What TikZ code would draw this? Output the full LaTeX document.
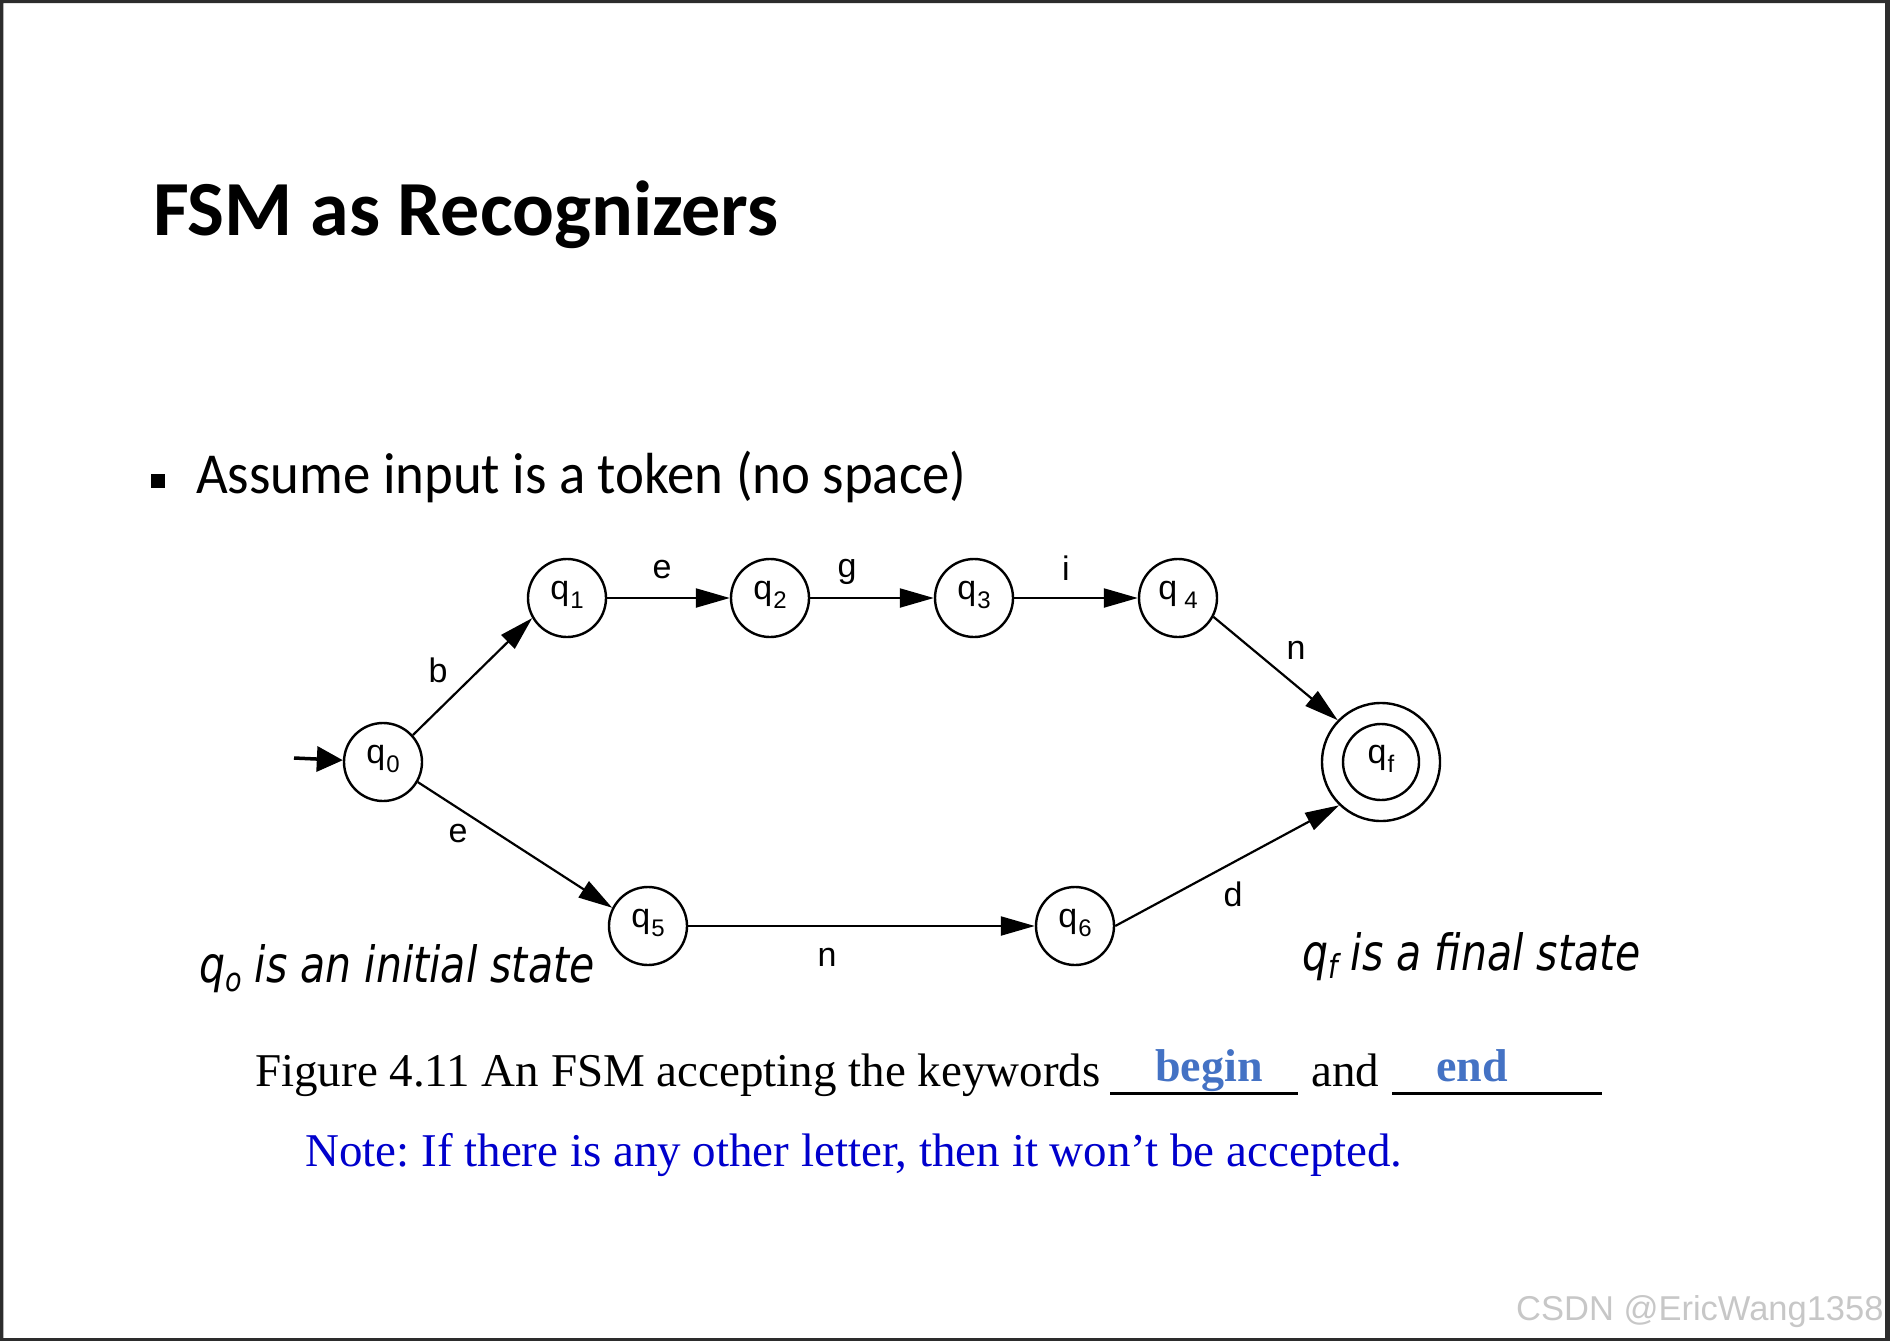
\documentclass[tikz,border=0pt]{standalone}
\usepackage{fontspec}
\setmainfont{Liberation Serif}
\newfontfamily\calfont{Carlito}
\newfontfamily\calnarrow[FakeStretch=0.945]{Carlito}
\newfontfamily\arfont{Liberation Sans}
\newfontfamily\tahfont[FakeStretch=0.82]{DejaVu Sans}
\usetikzlibrary{arrows.meta}
\definecolor{notebl}{RGB}{0,0,204}
\definecolor{kwbl}{RGB}{68,114,196}
\definecolor{framegr}{RGB}{45,45,45}
\newcommand\qsub[2][1pt]{q\kern#1\raisebox{-9pt}{\fontsize{24}{24}\selectfont #2}}
\frenchspacing
\begin{document}
\begin{tikzpicture}[x=1pt,y=-1pt,
  state/.style={circle, draw, line width=2.4pt, minimum size=78pt, inner sep=0pt,
    text height=12pt, text depth=10pt, font=\arfont\fontsize{34}{34}\selectfont},
  finalstate/.style={state, minimum size=118pt},
  edgelbl/.style={font=\arfont\fontsize{34}{34}\selectfont, inner sep=0pt},
  trans/.style={line width=2.2pt, -{Triangle[length=34pt,width=19pt]}},
  initarrow/.style={line width=3.5pt, -{Triangle[length=26pt,width=25pt]}},
  caption/.style={anchor=base west, inner sep=0pt, font=\tahfont\itshape\fontsize{50}{50}\selectfont},
  serif/.style={anchor=base west, inner sep=0pt, font=\fontsize{47}{47}\selectfont},
  kw/.style={anchor=base west, inner sep=0pt, text=kwbl, font=\bfseries\fontsize{46}{46}\selectfont},
  blank/.style={line width=3pt}]
\useasboundingbox (0,0) rectangle (1890,1341);
\fill[framegr,even odd rule] (0,0) rectangle (1890,1341) (3.3,3) rectangle (1885,1338);

% title and bullet
\node[anchor=base west, inner sep=0pt, font=\calfont\bfseries\fontsize{78}{78}\selectfont] (title) at (153,235) {FSM as Recognizers};
\node[fill, minimum size=14pt, inner sep=0pt] (bul) at (158,481) {};
\node[anchor=base west, inner sep=0pt, font=\calnarrow\fontsize{58}{58}\selectfont] (bullet) at (196,493) {Assume input is a token (no space)};

% states
\node[state] (q0) at (383,762) {\qsub{0}};
\node[state] (q1) at (567,598) {\qsub{1}};
\node[state] (q2) at (770,598) {\qsub{2}};
\node[state] (q3) at (974,598) {\qsub{3}};
\node[state] (q4) at (1178,598) {\qsub[7pt]{4}};
\node[finalstate] (qf) at (1381,762) {\qsub{f}};
\draw[line width=2.4pt] (qf.center) circle[radius=38pt];
\node[state] (q5) at (648,926) {\qsub{5}};
\node[state] (q6) at (1075,926) {\qsub{6}};

% transitions
\coordinate (init) at (294,758);
\draw[initarrow] (init) -- (q0);
\draw[trans] (q0.42) -- (q1.210);
\draw[trans] (q1) -- (q2);
\draw[trans] (q2) -- (q3);
\draw[trans] (q3) -- (q4);
\draw[trans] (q4.-28) -- (qf.136);
\draw[trans] (q0.-30) -- (q5.153);
\draw[trans] (q5) -- (q6);
\draw[trans] (q6.east) -- (qf.226);

% transition labels
\node[edgelbl] (lb) at (438,670) {b};
\node[edgelbl] (le1) at (662,570) {e};
\node[edgelbl] (lg) at (847,572) {g};
\node[edgelbl] (li) at (1066,568) {i};
\node[edgelbl] (ln1) at (1296,650) {n};
\node[edgelbl] (le2) at (458,834) {e};
\node[edgelbl] (ln2) at (827,957) {n};
\node[edgelbl] (ld) at (1233,894) {d};

% captions
\node[caption] (capL) at (199,982) {q\raisebox{-9pt}{\fontsize{33}{33}\selectfont o} is an initial state};
\node[caption] (capR) at (1302,970) {q\raisebox{-8pt}{\fontsize{33}{33}\selectfont f} is a final state};

% figure line
\node[serif] (fig) at (255,1086) {Figure 4.11 An FSM accepting the keywords};
\coordinate (u1a) at (1110,1093);
\coordinate (u1b) at (1298,1093);
\draw[blank] (u1a) -- (u1b);
\node[kw] (kbegin) at (1155,1081) {begin};
\node[serif] (and) at (1311,1086) {and};
\coordinate (u2a) at (1392,1093);
\coordinate (u2b) at (1602,1093);
\draw[blank] (u2a) -- (u2b);
\node[kw] (kend) at (1436,1081) {end};

\node[serif, text=notebl] (note) at (305,1166) {Note: If there is any other letter, then it won’t be accepted.};

% watermark
\node[anchor=base west, inner sep=0pt, text=black!22, font=\arfont\fontsize{34.5}{34.5}\selectfont] (wm) at (1516,1320) {CSDN @EricWang1358};
\end{tikzpicture}
\end{document}
